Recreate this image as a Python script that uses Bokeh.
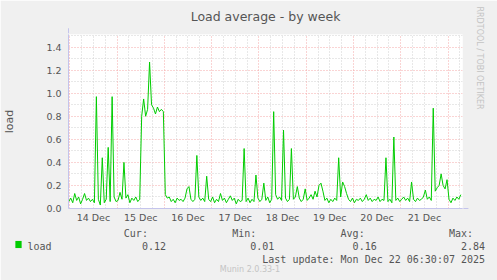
import math
from bokeh.plotting import figure
from bokeh.models import (FixedTicker, Grid, Label, Arrow, NormalHead,
                          Range1d, Title)
from bokeh.embed import file_html
from bokeh.resources import INLINE

# ---- data (hourly load average, first point = 13 Dec 23:30) ----
load_values = [
    0.06, 0.09, 0.05, 0.13, 0.07, 0.10, 0.04, 0.08, 0.13, 0.07,
    0.09, 0.06, 0.08, 0.05, 0.97, 0.08, 0.03, 0.44, 0.05, 0.08,
    0.53, 0.06, 0.97, 0.10, 0.06, 0.07, 0.14, 0.08, 0.40, 0.09,
    0.12, 0.05, 0.09, 0.07, 0.10, 0.06, 0.08, 0.80, 0.95, 0.80,
    0.86, 1.27, 0.90, 0.87, 0.82, 0.88, 0.84, 0.86, 0.84, 0.12,
    0.09, 0.10, 0.06, 0.08, 0.05, 0.09, 0.07, 0.08, 0.06, 0.09,
    0.17, 0.19, 0.08, 0.06, 0.08, 0.46, 0.10, 0.07, 0.09, 0.06,
    0.28, 0.08, 0.06, 0.10, 0.05, 0.08, 0.06, 0.13, 0.07, 0.09,
    0.05, 0.08, 0.11, 0.07, 0.09, 0.04, 0.08, 0.06, 0.07, 0.52,
    0.06, 0.09, 0.05, 0.08, 0.06, 0.29, 0.09, 0.06, 0.08, 0.22,
    0.07, 0.10, 0.05, 0.08, 0.84, 0.12, 0.08, 0.10, 0.07, 0.68,
    0.09, 0.06, 0.08, 0.52, 0.08, 0.10, 0.19, 0.09, 0.06, 0.08,
    0.17, 0.07, 0.09, 0.12, 0.08, 0.15, 0.10, 0.20, 0.22, 0.15,
    0.07, 0.09, 0.05, 0.08, 0.06, 0.09, 0.07, 0.44, 0.10, 0.23,
    0.19, 0.13, 0.08, 0.06, 0.09, 0.05, 0.08, 0.07, 0.09, 0.06,
    0.08, 0.12, 0.07, 0.09, 0.06, 0.08, 0.07, 0.10, 0.06, 0.08,
    0.07, 0.44, 0.06, 0.08, 0.05, 0.62, 0.07, 0.09, 0.06, 0.08,
    0.10, 0.07, 0.09, 0.06, 0.23, 0.08, 0.06, 0.09, 0.07, 0.08,
    0.10, 0.16, 0.08, 0.10, 0.07, 0.87, 0.15, 0.18, 0.20, 0.30,
    0.20, 0.17, 0.25, 0.08, 0.05, 0.09, 0.07, 0.10, 0.08, 0.12,
]
start_hour = -0.5        # hours relative to 14 Dec 00:00
step_hours = 1.0
day_labels = ["14 Dec", "15 Dec", "16 Dec", "17 Dec",
              "18 Dec", "19 Dec", "20 Dec", "21 Dec"]
y_ticks = [0.0, 0.2, 0.4, 0.6, 0.8, 1.0, 1.2, 1.4]
y_tick_labels = ["0.0", "0.2", "0.4", "0.6", "0.8", "1.0", "1.2", "1.4"]
y_minor_ticks = [0.1, 0.3, 0.5, 0.7, 0.9, 1.1, 1.3, 1.5]
series_name = "load"
stat_names = ["Cur:", "Min:", "Avg:", "Max:"]
stat_values = ["0.12", "0.01", "0.16", "2.84"]
title_text = "Load average - by week"
last_update = "Last update: Mon Dec 22 06:30:07 2025"
side_text = "RRDTOOL / TOBI OETIKER"
footer_text = "Munin 2.0.33-1"

hours = [start_hour + i * step_hours for i in range(len(load_values))]

GREEN = "#00CC00"
AXIS = "#C4C4EC"
TXT = "#555555"
FAINT = "#C4C4C4"

X0, X1 = -0.65, 199.35
Y1 = 1.509
p = figure(width=497, height=280, title=title_text,
           x_range=Range1d(X0, X1), y_range=Range1d(0, Y1),
           output_backend="svg", toolbar_location=None,
           min_border_left=67, min_border_right=30,
           min_border_top=33, min_border_bottom=72,
           background_fill_color="white", border_fill_color="#F0F0F0",
           outline_line_color=None)

# title
p.title.align = "center"
p.title.vertical_align = "top"
p.title.offset = -18.5
p.title.standoff = 17
p.title.text_font = "DejaVu Sans"
p.title.text_font_size = "12.5px"
p.title.text_font_style = "normal"
p.title.text_color = TXT

# y axis
yt = FixedTicker(ticks=y_ticks, minor_ticks=y_minor_ticks)
p.yaxis.ticker = yt
p.yaxis.major_label_overrides = {t: s for t, s in zip(y_ticks, y_tick_labels)}
p.ygrid.ticker = yt
p.ygrid.grid_line_color = "#F4A8A8"
p.ygrid.grid_line_dash = "1 2"
p.ygrid.minor_grid_line_color = "#D0D0D0"
p.ygrid.minor_grid_line_dash = "1 2"

# x axis
noons = [12 + 24 * k for k in range(len(day_labels))]
p.xaxis.ticker = FixedTicker(ticks=noons)
p.xaxis.major_label_overrides = {t: s for t, s in zip(noons, day_labels)}
p.xgrid.grid_line_color = None
midnights = [24 * k for k in range(9)]
six_h = [6 * k for k in range(34) if k % 4 != 0]
xg = Grid(dimension=0, ticker=FixedTicker(ticks=midnights, minor_ticks=six_h),
          grid_line_color="#F4A8A8", grid_line_dash="1 2",
          minor_grid_line_color="#D0D0D0", minor_grid_line_dash="1 2",
          level="underlay")
p.add_layout(xg)

for ax in (p.xaxis[0], p.yaxis[0]):
    ax.axis_line_color = AXIS
    ax.major_tick_out = 0
    ax.major_tick_in = 0
    ax.minor_tick_out = 0
    ax.minor_tick_in = 0
    ax.major_label_text_font = "DejaVu Sans"
    ax.major_label_text_font_size = "9.5px"
    ax.major_label_text_color = TXT
p.yaxis.major_label_standoff = 7
p.xaxis.major_label_standoff = 3
p.yaxis.axis_label = "load"
p.yaxis.axis_label_text_font = "DejaVu Sans"
p.yaxis.axis_label_text_font_size = "11px"
p.yaxis.axis_label_text_font_style = "normal"
p.yaxis.axis_label_text_color = TXT
p.yaxis.axis_label_standoff = 27

p.line(hours, load_values, line_color=GREEN, line_width=1)

# axis arrows
p.add_layout(Arrow(end=NormalHead(size=5, fill_color=AXIS, line_color=AXIS),
                   x_start=X0, y_start=1.50, x_end=X0, y_end=1.563,
                   line_color=AXIS))
p.add_layout(Arrow(end=NormalHead(size=5, fill_color=AXIS, line_color=AXIS),
                   x_start=199.0, y_start=0, x_end=202.35, y_end=0,
                   line_color=AXIS))

# side credit
p.add_layout(Title(text=side_text, align="left", offset=-28, standoff=24,
                   text_font="DejaVu Sans", text_font_size="8px",
                   text_font_style="normal", text_color=FAINT), "right")

# legend text block: monospace rows, columns placed by character cell
NBSP = "\u00a0"


def row(items, width=76):
    cells = [NBSP] * width
    for text, right_col in items:
        for k, ch in enumerate(text):
            cells[right_col - len(text) + k] = ch
    return "".join(cells).replace(" ", NBSP)


hdr_cols = [20, 38, 56, 74]
val_cols = [23, 41, 58, 76]
row1 = row(list(zip(stat_names, hdr_cols)))
row2 = row([(series_name, len(series_name))] + list(zip(stat_values, val_cols)))
row3 = row([(last_update, 76)])
block = "\n".join([row1, row2, row3])

p.add_layout(Label(x=26 - 67, y=16, x_units="screen", y_units="screen",
                   text=block, text_align="left", text_baseline="middle",
                   text_font="DejaVu Sans Mono", text_font_size="10px",
                   text_color=TXT), "below")
p.add_layout(Label(x=218.3 - 67, y=2.5, x_units="screen", y_units="screen",
                   text=footer_text, text_align="left", text_baseline="middle",
                   text_font="DejaVu Sans", text_font_size="8px",
                   text_color=FAINT), "below")

# legend swatch: a small green box in the outermost bottom panel
try:
    swatch = Label(x=17 - 67, y=34, x_units="screen", y_units="screen",
                   text=NBSP, text_align="center", text_baseline="middle",
                   text_font_size="1px", background_fill_color=GREEN,
                   background_fill_alpha=1.0, padding=3)
except Exception:
    swatch = Label(x=17 - 67, y=34, x_units="screen", y_units="screen",
                   text="\u25A0", text_align="center", text_baseline="middle",
                   text_font="DejaVu Sans", text_font_size="8px",
                   text_color=GREEN)
p.add_layout(swatch, "below")

open("out.html", "w").write(file_html(p, INLINE))
